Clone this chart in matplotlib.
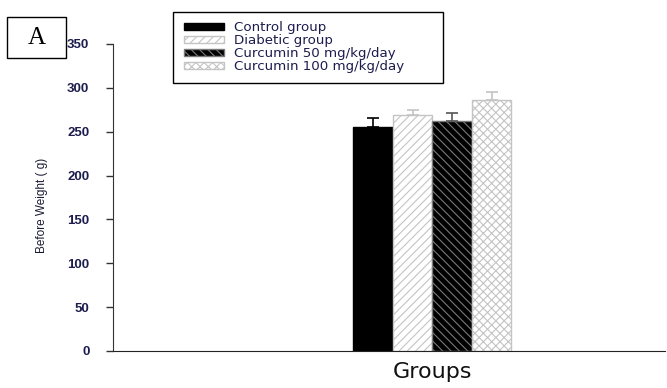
import matplotlib
matplotlib.use("Agg")
import matplotlib.pyplot as plt
from matplotlib.patches import Rectangle, Patch

groups = ["Control group", "Diabetic group", "Curcumin 50 mg/kg/day", "Curcumin 100 mg/kg/day"]
weights = [255, 269, 262, 286]
errors = [11, 6, 9, 9]

faces = ["black", "white", "black", "white"]
edges = ["black", "#c4c4c4", "#7a7a7a", "#c4c4c4"]
hatches = [None, "////", "\\\\\\\\", "xxxx"]
err_colors = ["black", "#c4c4c4", "#555555", "#c4c4c4"]
text_color = "#1c1c4e"

plt.rcParams["hatch.linewidth"] = 0.8
plt.rcParams["font.family"] = ["Liberation Sans", "DejaVu Sans"]

fig = plt.figure(figsize=(6.67, 3.88), dpi=100)
ax = fig.add_axes([0.1694, 0.0954, 0.8276, 0.7912])

pos = range(len(groups))
for i in pos:
    ax.bar(i, weights[i], width=1.0, color=faces[i], edgecolor=edges[i],
           hatch=hatches[i], linewidth=1.0, zorder=2)
    ax.errorbar(i, weights[i], yerr=[[0], [errors[i]]], color=err_colors[i],
                capsize=4.5, elinewidth=1.2, capthick=1.2, zorder=3)

ax.set_xlim(-6.58, 7.39)
ax.set_ylim(0, 350)
ax.set_yticks(range(0, 351, 50))
ax.set_xticks([])
ax.spines["top"].set_visible(False)
ax.spines["right"].set_visible(False)
ax.spines["left"].set_color("#333333")
ax.spines["bottom"].set_color("#222222")
ax.tick_params(axis="y", direction="out", length=5, width=1, color="#333333",
               labelsize=9.5, labelcolor=text_color, pad=12)
for t in ax.get_yticklabels():
    t.set_fontweight("bold")

ax.set_ylabel("Before Weight ( g)", fontsize=8.5, color="#1a1a33",
              family=["Liberation Sans Narrow", "Liberation Sans"])
ax.yaxis.set_label_coords(-0.118, 0.475)
ax.set_xlabel("Groups", fontsize=16, family=["DejaVu Sans"], color="#111111")
ax.xaxis.set_label_coords(0.5797, -0.035)

# panel letter box
fig.patches.append(Rectangle((7 / 667, 1 - 58 / 388), 59 / 667, 41 / 388,
                             transform=fig.transFigure, fill=False,
                             edgecolor="black", linewidth=1.0))
fig.text(36.5 / 667, 1 - 38 / 388, "A", fontsize=18, ha="center", va="center",
         family=["Liberation Serif", "DejaVu Serif"])

# legend frame
fig.patches.append(Rectangle((173 / 667, 1 - 83 / 388), 270 / 667, 71 / 388,
                             transform=fig.transFigure, fill=False,
                             edgecolor="black", linewidth=1.0))
handles = [Patch(facecolor=faces[i], edgecolor=edges[i], hatch=hatches[i])
           for i in pos]
leg = fig.legend(handles, groups, loc="upper left",
                 bbox_to_anchor=(175 / 667, 1 - 12 / 388), frameon=False,
                 prop={"family": "DejaVu Sans", "size": 9.6},
                 handlelength=3.0, handleheight=0.45,
                 handletextpad=0.75, labelspacing=0.0, borderpad=0.2)
for t in leg.get_texts():
    t.set_color(text_color)

fig.savefig("out.png", dpi=100)
